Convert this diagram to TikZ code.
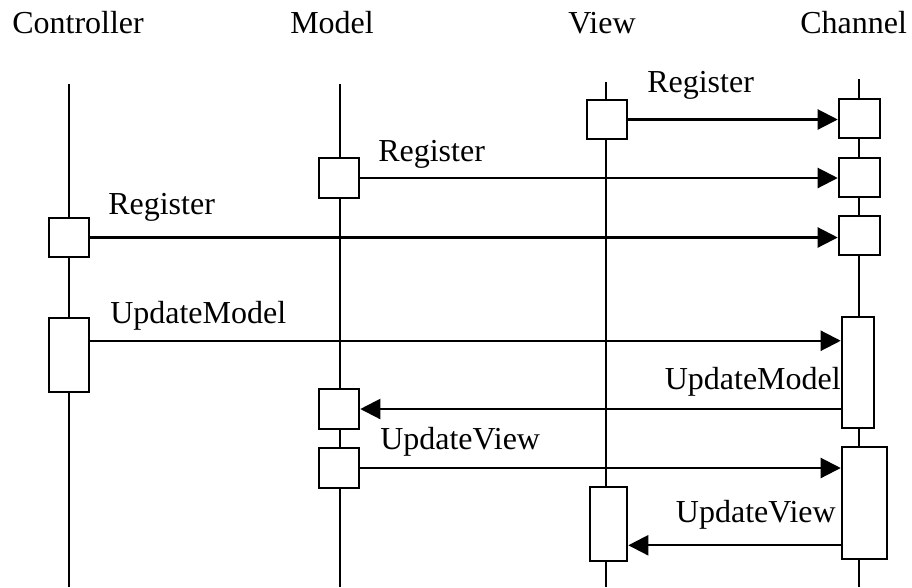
\documentclass[tikz,border=0pt]{standalone}
\usepackage{fontspec}
\setmainfont{Liberation Serif}
\usetikzlibrary{arrows.meta,calc}
\begin{document}
\begin{tikzpicture}[x=0.75pt,y=-0.75pt,
  lifeline/.style={line width=1.6pt},
  act/.style 2 args={draw, fill=white, line width=1.9pt, inner sep=0pt,
    minimum width=#1*0.75pt, minimum height=#2*0.75pt},
  msg/.style={line width=1.6pt, -{Triangle[length=15pt,width=15pt]}},
  lbl/.style={inner sep=0pt, font=\fontsize{24}{28}\selectfont},
  head/.style={lbl, anchor=base west}]
\useasboundingbox (0,0) rectangle (912,587);

% participant headers
\node[head] (hC)  at (12,33)  {Controller};
\node[head] (hM)  at (290,33) {Model};
\node[head] (hV)  at (568,33) {View};
\node[head] (hCh) at (800,33) {Channel};

% lifelines
\coordinate (Ctop)  at (69,84);  \coordinate (Cbot)  at (69,587);
\coordinate (Mtop)  at (340,84); \coordinate (Mbot)  at (340,587);
\coordinate (Vtop)  at (606,82); \coordinate (Vbot)  at (606,587);
\coordinate (Chtop) at (859,79); \coordinate (Chbot) at (859,587);
\draw[lifeline] (Ctop) -- (Cbot);
\draw[lifeline] (Mtop) -- (Mbot);
\draw[lifeline] (Vtop) -- (Vbot);
\draw[lifeline] (Chtop) -- (Chbot);

% activation boxes
\node[act={40}{39}]  (V1)  at (607,119.5) {};
\node[act={41}{39}]  (Ch1) at (859.5,118.5) {};
\node[act={40}{40}]  (M1)  at (339,178) {};
\node[act={41}{39}]  (Ch2) at (859.5,177.5) {};
\node[act={40}{39}]  (C1)  at (69,237.5) {};
\node[act={41}{39}]  (Ch3) at (859.5,235.5) {};
\node[act={40}{74}]  (C2)  at (69,355) {};
\node[act={32}{111}] (ChA) at (858,372.5) {};
\node[act={40}{40}]  (M2)  at (339,409) {};
\node[act={40}{40}]  (M3)  at (339,468) {};
\node[act={45}{112}] (ChB) at (864.5,503) {};
\node[act={37}{74}]  (V2)  at (608.5,524) {};

% messages
\draw[msg] (V1.east) -- (V1.east -| Ch1.west);
\draw[msg] (M1.east) -- (M1.east -| Ch2.west);
\draw[msg] (C1.east) -- (C1.east -| Ch3.west);
\coordinate (um) at ($(C2.north east)+(0,24)$);
\draw[msg] (um) -- (um -| ChA.west);
\draw[msg] (M2.east -| ChA.west) -- (M2.east);
\draw[msg] (M3.east) -- (M3.east -| ChB.west);
\coordinate (uv) at ($(V2.south east)+(0,-17)$);
\draw[msg] (uv -| ChB.west) -- (uv);

% message labels
\node[lbl, anchor=base west] (r1) at (647,92)  {Register};
\node[lbl, anchor=base west] (r2) at (378,161) {Register};
\node[lbl, anchor=base west] (r3) at (108,214) {Register};
\node[lbl, anchor=base west] (u1) at (110,323) {UpdateModel};
\node[lbl, anchor=base east] (u2) at (841,389) {UpdateModel};
\node[lbl, anchor=base west] (u3) at (380,449) {UpdateView};
\node[lbl, anchor=base east] (u4) at (836,522) {UpdateView};
\end{tikzpicture}
\end{document}
